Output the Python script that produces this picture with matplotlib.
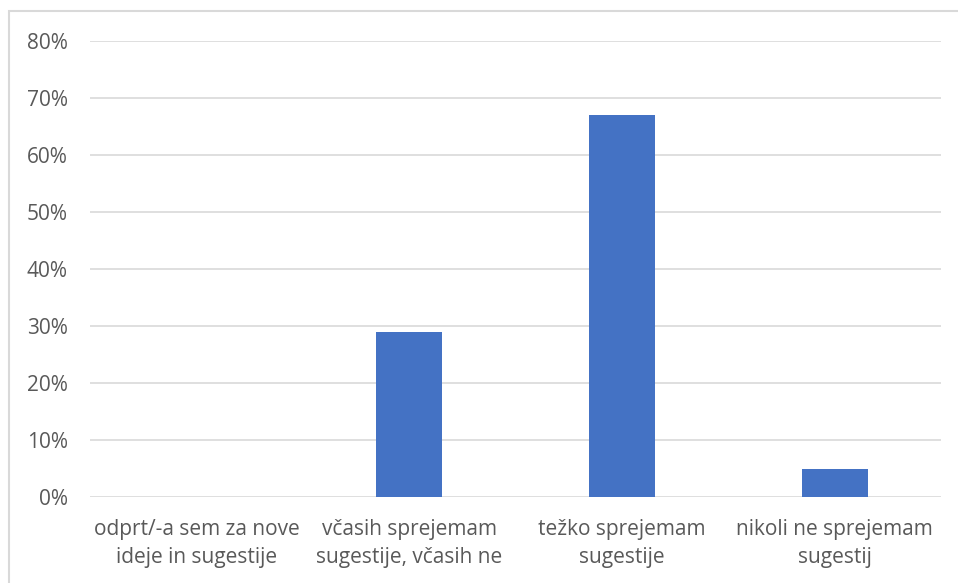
import numpy as np
import matplotlib.pyplot as plt
from matplotlib.patches import Rectangle
from matplotlib.ticker import FuncFormatter

categories = ['odprt/-a sem za nove\nideje in sugestije',
              'včasih sprejemam\nsugestije, včasih ne',
              'težko sprejemam\nsugestije',
              'nikoli ne sprejemam\nsugestij']
shares = [0.0, 0.29, 0.67, 0.05]
y_ticks = [0.0, 0.1, 0.2, 0.3, 0.4, 0.5, 0.6, 0.7, 0.8]

plt.rcParams['font.family'] = ['Open Sans', 'DejaVu Sans']
text_color = '#595959'
grid_color = '#D9D9D9'

fig = plt.figure(figsize=(9.58, 5.83), dpi=100)
ax = fig.add_axes([90 / 958, 1 - 497 / 583, 851 / 958, 456 / 583])

# chart frame (only left and top edges are visible in the crop)
fig.patches.append(Rectangle((9 / 958, -0.1), 1.2, 1.1 - 11 / 583,
                             transform=fig.transFigure, fill=False,
                             edgecolor='#D9D9D9', linewidth=1.5))

x = np.arange(len(categories))
ax.bar(x, shares, width=0.31, color='#4472C4', zorder=3)

ax.set_xlim(-0.5, len(categories) - 0.5)
ax.set_ylim(0, 0.8)
ax.set_yticks(y_ticks)
ax.yaxis.set_major_formatter(FuncFormatter(lambda v, _: f'{v * 100:.0f}%'))
ax.set_xticks(x)
ax.set_xticklabels(categories, linespacing=1.4)

ax.grid(axis='y', color=grid_color, linewidth=1.2, zorder=0)
for side in ['top', 'right', 'left', 'bottom']:
    ax.spines[side].set_visible(False)
ax.tick_params(axis='both', length=0, colors=text_color, labelsize=15)
ax.tick_params(axis='y', pad=16)
ax.tick_params(axis='x', pad=16)

fig.savefig('out.png', dpi=100)
